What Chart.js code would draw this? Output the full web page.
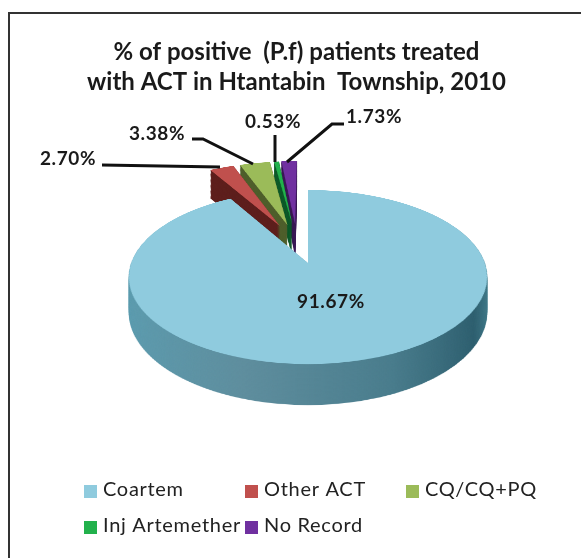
<!DOCTYPE html>
<html><head><meta charset="utf-8">
<style>html,body{margin:0;padding:0;background:#fff;overflow:hidden}#w{width:581px;height:558px;position:relative}</style>
<script src="https://cdn.jsdelivr.net/npm/chart.js@4"></script>
</head><body><div id="w"><canvas id="c" width="581" height="558"></canvas></div>
<script>
const categories = ['Coartem','Other ACT','CQ/CQ+PQ','Inj Artemether','No Record'];
const values = [91.67,2.70,3.38,0.53,1.73];
const topColors = ['#8fcbde','#c0504d','#9bbb59','#22b14c','#7030a0'];
const sideColors = ['#4f8697','#5e1f1d','#4f5f2c','#0e5a2a','#3a1a55'];
const titleLines = ['% of positive  (P.f) patients treated','with ACT in Htantabin  Township, 2010'];

// projection of the tilted pie plane
const P = {cx:308, cy:263, A:177, B:84.8, k:0.161, depth:34.4, explode:0.25};
const drawOrder = [4,3,2,1,0];
const labelPos = [[331,308],[68,165],[157,140],[273,128],[374,123]];
const leaders = [
  [[102,165],[220,167]],
  [[192,139],[203,139],[253,164]],
  [[275,135],[275,162]],
  [[344,124],[332,124],[287,162]]
];
const legendCols = [84,245,406], legendRows = [485,521];

function sliceImage(arc, pivot, R, side, i){
  const O = Math.ceil(R*2), S = O*2;
  const off = document.createElement('canvas'); off.width = S; off.height = S;
  const g = off.getContext('2d');
  const mid = (arc.startAngle+arc.endAngle)/2;
  g.save();
  g.translate(O - arc.x - pivot[0]*R + Math.cos(mid)*P.explode*R,
              O - arc.y - pivot[1]*R + Math.sin(mid)*P.explode*R);
  arc.draw(g);
  g.restore();
  g.globalCompositeOperation = 'source-in';
  if(side && i===0){
    const gr = g.createLinearGradient(O-R,0,O+R,0);
    gr.addColorStop(0,'#5d9db0'); gr.addColorStop(0.35,'#5f8e9e');
    gr.addColorStop(0.7,'#4a7d8d'); gr.addColorStop(0.93,'#2f6070'); gr.addColorStop(1,'#46808f');
    g.fillStyle = gr;
  } else g.fillStyle = side ? sideColors[i] : topColors[i];
  g.fillRect(0,0,S,S);
  return {off,O,S};
}
function warp(ctx, img, R, t){
  const {off,O,S} = img;
  for(let y=130; y<420; y++){
    const Y = y-P.cy;
    const v = (Y - t*P.depth)/(P.B + P.k*Y);
    const v2 = (Y+1 - t*P.depth)/(P.B + P.k*(Y+1));
    const sy = O + v*R, sh = Math.max((v2-v)*R, 1);
    if(sy<0 || sy+sh>S) continue;
    const w = 1 - P.k*v;
    const s = P.A/(R*w);
    ctx.drawImage(off, 0, sy, S, sh, P.cx - O*s, y, S*s, 1);
  }
}
const pie3d = {
  id:'pie3d',
  beforeDatasetsDraw(chart){
    const ctx = chart.ctx, arcs = chart.getDatasetMeta(0).data;
    const R = arcs[0].outerRadius;
    const m0 = (arcs[0].startAngle+arcs[0].endAngle)/2;
    const pivot = [Math.cos(m0)*P.explode, Math.sin(m0)*P.explode];
    ctx.save();
    ctx.imageSmoothingEnabled = true;
    for(const i of drawOrder){
      const sideImg = sliceImage(arcs[i],pivot,R,true,i);
      const topImg = sliceImage(arcs[i],pivot,R,false,i);
      for(let t=1; t>0; t-=0.03) warp(ctx,sideImg,R,t);
      warp(ctx,topImg,R,0);
    }
    ctx.restore();
    return false;
  },
  afterDraw(chart){
    const ctx = chart.ctx;
    ctx.save();
    // frame
    ctx.strokeStyle='#333'; ctx.lineWidth=2;
    ctx.beginPath(); ctx.moveTo(9,558); ctx.lineTo(9,13); ctx.lineTo(581,13); ctx.stroke();
    // leader lines
    ctx.strokeStyle='#111'; ctx.lineWidth=3; ctx.lineJoin='miter';
    leaders.forEach(l=>{ctx.beginPath();l.forEach((p,i)=>i?ctx.lineTo(p[0],p[1]):ctx.moveTo(p[0],p[1]));ctx.stroke();});
    // value labels
    ctx.fillStyle='#1a1a1a'; ctx.font='bold 19px Lato'; ctx.textAlign='center'; ctx.textBaseline='alphabetic';
    ctx.letterSpacing='0.6px';
    values.forEach((v,i)=>ctx.fillText(v.toFixed(2)+'%',labelPos[i][0],labelPos[i][1]));
    // legend
    ctx.font='20px Lato'; ctx.textAlign='left'; ctx.letterSpacing='0.7px';
    categories.forEach((c,i)=>{
      const x=legendCols[i%3], y=legendRows[Math.floor(i/3)];
      ctx.fillStyle=topColors[i]; ctx.fillRect(x,y,13,13);
      ctx.fillStyle='#222'; ctx.fillText(c,x+19,y+11);
    });
    ctx.restore();
  }
};
new Chart(document.getElementById('c'),{
  type:'pie',
  data:{labels:categories,datasets:[{data:values,backgroundColor:topColors,borderWidth:0}]},
  plugins:[pie3d],
  options:{
    responsive:false,animation:false,
    layout:{padding:{left:12}},
    plugins:{
      legend:{display:false},tooltip:{enabled:false},
      title:{display:true,text:titleLines,color:'#1a1a1a',font:{family:'Lato',size:24,weight:'bold',lineHeight:1.25},padding:{top:37,bottom:10}}
    }
  }
});
</script></body></html>
